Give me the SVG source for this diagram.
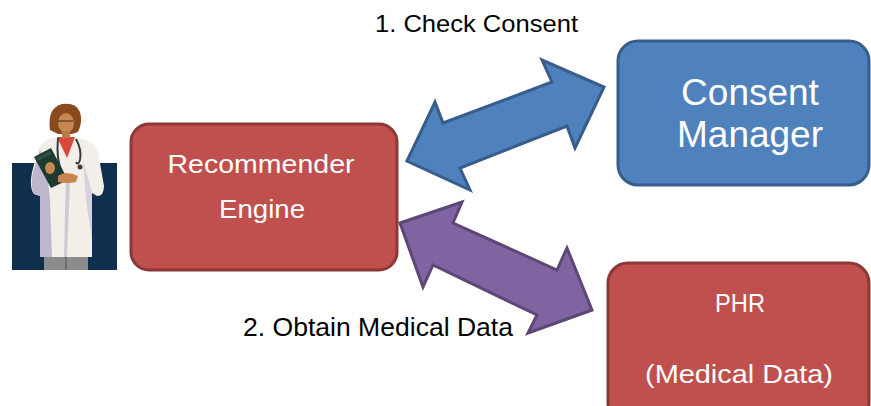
<svg xmlns="http://www.w3.org/2000/svg" width="871" height="406" viewBox="0 0 871 406">
  <style>
    .lbl { font-family: "Liberation Sans", Arial, sans-serif; fill: #000; }
    .inner { font-family: "Liberation Sans", Arial, sans-serif; fill: #fff; text-anchor: middle; }
    .red { fill: #C0504D; stroke: #8C3836; stroke-width: 3; }
    .blue { fill: #4F81BD; stroke: #385D8A; stroke-width: 3; }
  </style>
  <rect width="871" height="406" fill="#fff"/>

  <!-- doctor illustration -->
  <g id="doctor">
    <rect x="12" y="163" width="105" height="107" fill="#0E2F4E"/>
    <rect x="44" y="254" width="44" height="16" fill="#8C8C8C"/>
    <rect x="65" y="254" width="2" height="16" fill="#6E6E6E"/>
    <!-- coat -->
    <path d="M52,138 L80,138 Q95,142 98,152 L104,186 Q104,196 97,196 L92,193 L92,257 L40,257 L40,196 L34,194 Q29,188 32,172 L38,150 Q42,141 52,138 Z" fill="#F4EEE8"/>
    <path d="M40,196 L40,257 L52,257 L50,200 L46,160 L40,150 L33,172 Q30,188 34,194 Z" fill="#BDB6CC"/>
    <path d="M66,176 L64,257 L67,257 L70,178 Z" fill="#CFC8DA"/>
    <path d="M83,160 L92,193 L92,240 L86,200 Z" fill="#D6D0E0"/>
    <!-- shirt -->
    <path d="M57,137 L75,137 L67,158 Z" fill="#D9483A"/>
    <!-- hair and face -->
    <path d="M50,130 Q47,108 62,104 Q76,102 80,112 Q83,122 78,132 L72,134 L58,134 Z" fill="#8A4A1E"/>
    <ellipse cx="66" cy="123" rx="8" ry="10" fill="#C7874F"/>
    <path d="M57,116 Q64,108 76,116 L76,112 Q66,104 56,113 Z" fill="#8A4A1E"/>
    <path d="M58,121 h6 M67,121 h6 M64,121 h3" stroke="#3A2A20" stroke-width="1.2" fill="none"/>
    <rect x="62" y="131" width="8" height="7" fill="#B97A45"/>
    <!-- stethoscope -->
    <path d="M58,138 Q56,160 62,172 M76,139 Q82,150 80,160 Q78,166 76,162" stroke="#3B3B3B" stroke-width="2" fill="none"/>
    <circle cx="80" cy="167" r="2.5" fill="#3B3B3B"/>
    <!-- clipboard and hands -->
    <path d="M34,157 L51,148 L68,180 L51,188 Z" fill="#1D3A30"/>
    <path d="M36,158 L50,151 L52,154 L38,161 Z" fill="#2E4E44"/>
    <ellipse cx="50" cy="168" rx="5" ry="6" fill="#C7874F"/>
    <path d="M58,176 Q66,170 78,176 L76,182 Q66,184 58,182 Z" fill="#C7874F"/>
  </g>

  <!-- nodes -->
  <g id="recommender">
    <rect class="red" x="131" y="124" width="266" height="146" rx="18"/>
    <text class="inner" x="261" y="173" font-size="26" textLength="187" lengthAdjust="spacingAndGlyphs">Recommender</text>
    <text class="inner" x="262" y="218" font-size="26" textLength="86" lengthAdjust="spacingAndGlyphs">Engine</text>
  </g>
  <g id="consent-manager">
    <rect class="blue" x="618" y="41" width="251" height="144" rx="20"/>
    <text class="inner" x="750" y="105" font-size="37">Consent</text>
    <text class="inner" x="750" y="147" font-size="37">Manager</text>
  </g>
  <g id="phr">
    <rect class="red" x="608" y="263" width="261" height="160" rx="20"/>
    <text class="inner" x="740" y="312" font-size="26" textLength="50" lengthAdjust="spacingAndGlyphs">PHR</text>
    <text class="inner" x="739" y="383" font-size="26" textLength="188" lengthAdjust="spacingAndGlyphs">(Medical Data)</text>
  </g>

  <!-- connectors -->
  <g id="connectors" stroke-linejoin="miter" stroke-width="3">
    <polygon id="check-consent" fill="#4F81BD" stroke="#385D8A"
      points="407,161 435,102 443,123 552,82 542,60 604,87 575,148 567,126 460,168 470,190"/>
    <polygon id="obtain-data" fill="#8064A2" stroke="#5C4776"
      points="400,223 462,202 453,223 557,270 567,248 592,310 528,333 537,315 433,265 423,287"/>
  </g>

  <!-- labels -->
  <text class="lbl" x="375" y="32" font-size="24" textLength="203" lengthAdjust="spacingAndGlyphs">1. Check Consent</text>
  <text class="lbl" x="243" y="336" font-size="25" textLength="270" lengthAdjust="spacingAndGlyphs">2. Obtain Medical Data</text>
</svg>
